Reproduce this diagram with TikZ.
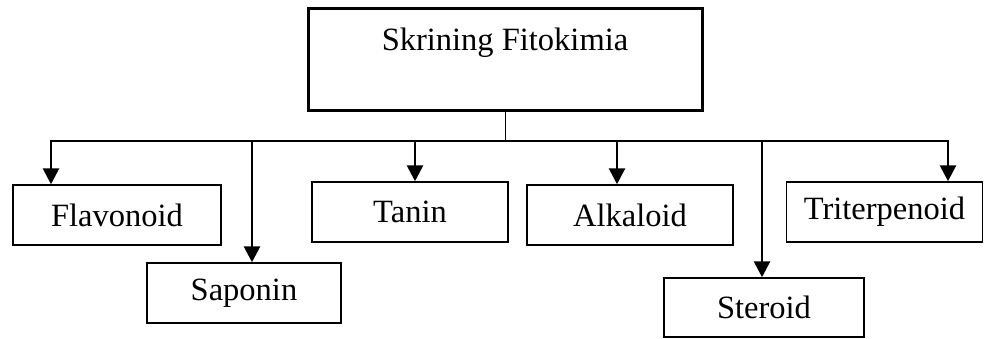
\documentclass[tikz,border=0pt]{standalone}
\usepackage{fontspec}
\setmainfont{Liberation Serif}
\usetikzlibrary{arrows.meta}
\begin{document}
\begin{tikzpicture}[x=1pt,y=-1pt,
  box/.style={draw, line width=1.5pt, inner sep=0pt, font=\fontsize{32.5}{38}\selectfont},
  arr/.style={line width=2.8pt, -{Triangle[width=16pt,length=16pt]}},
  bus/.style={line width=2.8pt}]
\useasboundingbox (0,0) rectangle (984,338);
\node[draw, line width=3pt, minimum width=394pt, minimum height=102pt, inner sep=0pt] (top) at (505,59) {};
\node[font=\fontsize{32.5}{38}\selectfont] (toptext) at (505,43) {Skrining Fitokimia};
\node[box, minimum width=208pt, minimum height=60pt] (flav) at (117,215) {Flavonoid};
\node[box, minimum width=194pt, minimum height=60pt] (sap) at (244,293) {Saponin};
\node[box, minimum width=196pt, minimum height=60pt] (tan) at (410,212) {Tanin};
\node[box, minimum width=206pt, minimum height=60pt] (alk) at (630,215) {Alkaloid};
\node[box, minimum width=200pt, minimum height=59pt] (ster) at (764,307.5) {Steroid};
\node[box, minimum width=196pt, minimum height=60pt] (trit) at (884.5,212) {Triterpenoid};
\coordinate (stem) at (505,141);
\coordinate (b1) at (51,141);
\coordinate (b2) at (252,141);
\coordinate (b3) at (415,141);
\coordinate (b4) at (617,141);
\coordinate (b5) at (762,141);
\coordinate (b6) at (948,141);
\draw[line width=1pt] (top.south -| stem) -- (stem);
\draw[bus] ([xshift=-1.4pt]b1) -- ([xshift=1.4pt]b6);
\draw[arr] (b1) -- (b1 |- flav.north);
\draw[arr] (b2) -- (b2 |- sap.north);
\draw[arr] (b3) -- (b3 |- tan.north);
\draw[arr] (b4) -- (b4 |- alk.north);
\draw[arr] (b5) -- (b5 |- ster.north);
\draw[arr] (b6) -- (b6 |- trit.north);
\end{tikzpicture}
\end{document}
